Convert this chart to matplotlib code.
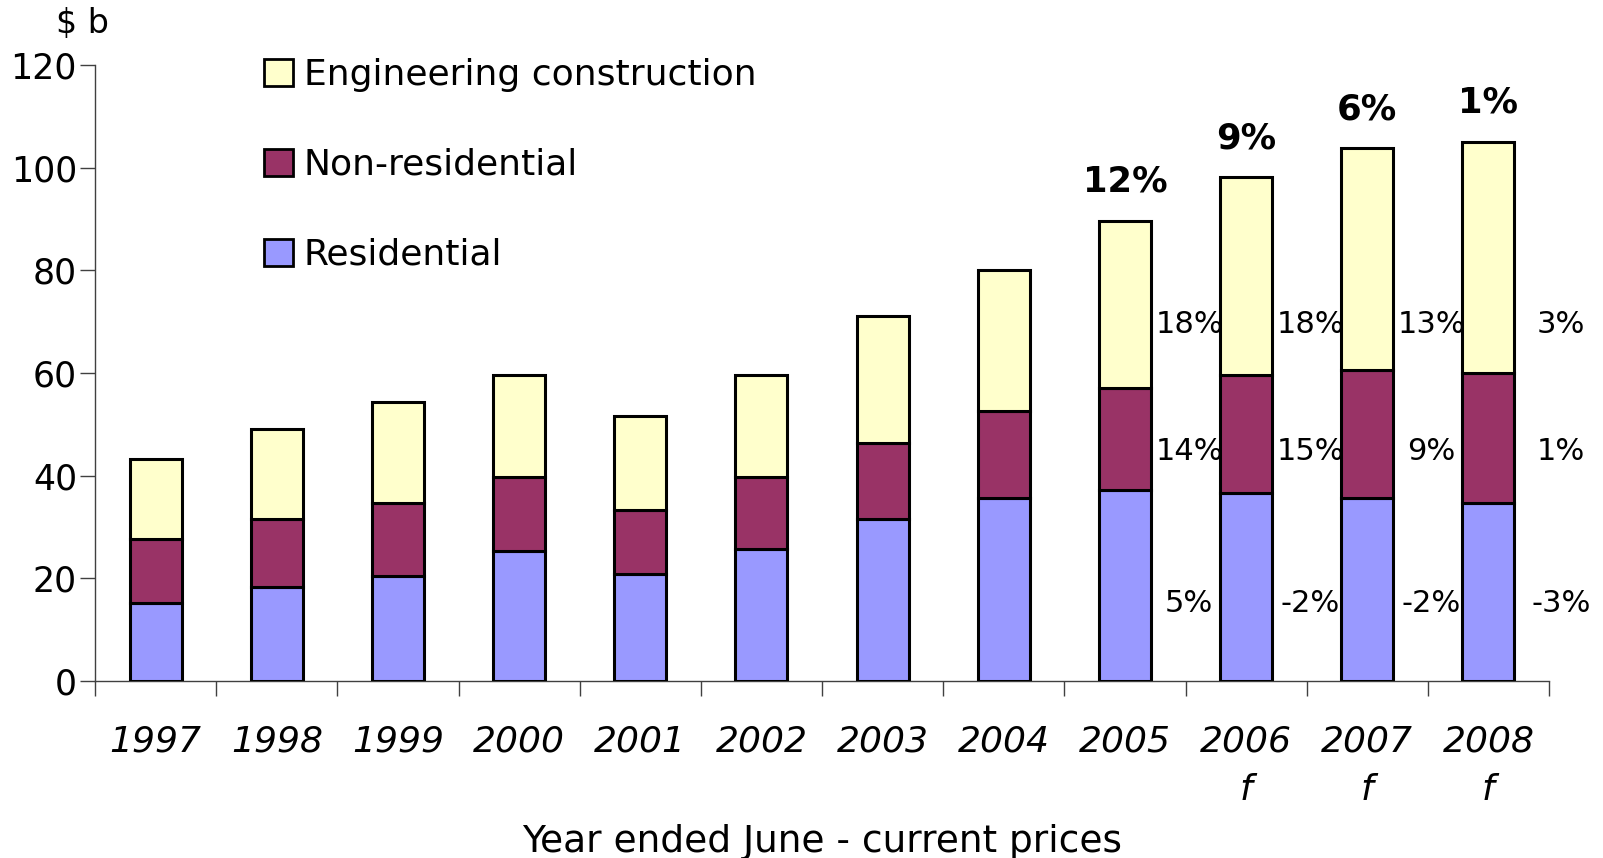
import matplotlib
matplotlib.use("Agg")
import matplotlib.pyplot as plt
from matplotlib.patches import Patch
import numpy as np

years = ["1997", "1998", "1999", "2000", "2001", "2002", "2003", "2004", "2005", "2006\nf", "2007\nf", "2008\nf"]
residential = [15.1, 18.3, 20.5, 25.3, 20.9, 25.7, 31.5, 35.7, 37.3, 36.7, 35.7, 34.7]
non_residential = [12.6, 13.2, 14.2, 14.4, 12.4, 14.0, 14.9, 16.9, 19.7, 22.9, 24.9, 25.3]
engineering = [15.6, 17.5, 19.7, 19.9, 18.3, 19.9, 24.8, 27.5, 32.7, 38.5, 43.2, 45.0]

label_years = ["2005", "2006", "2007", "2008"]
total_growth = ["12%", "9%", "6%", "1%"]
eng_growth = ["18%", "18%", "13%", "3%"]
nonres_growth = ["14%", "15%", "9%", "1%"]
res_growth = ["5%", "-2%", "-2%", "-3%"]

c_res = "#9999FF"
c_non = "#993366"
c_eng = "#FFFFCC"

fig = plt.figure(figsize=(16.03, 8.58), dpi=100)
ax = fig.add_axes([95/1603, 1-681/858, (1549-95)/1603, (681-65)/858])

x = np.arange(len(years))
w = 0.43
res = np.array(residential)
non = np.array(non_residential)
eng = np.array(engineering)
ax.bar(x, res, w, color=c_res, edgecolor="black", linewidth=2.2, zorder=3)
ax.bar(x, non, w, bottom=res, color=c_non, edgecolor="black", linewidth=2.2, zorder=3)
ax.bar(x, eng, w, bottom=res + non, color=c_eng, edgecolor="black", linewidth=2.2, zorder=3)

ax.set_xlim(-0.5, len(years) - 0.5)
ax.set_ylim(0, 120)
ax.set_yticks(range(0, 121, 20))
ax.tick_params(axis="y", labelsize=25, length=11, width=1, color="#404040", pad=2, direction="out")
ax.set_xticks(x)
ax.set_xticklabels(years, fontsize=26, style="italic", linespacing=1.55)
ax.tick_params(axis="x", length=0, pad=31)
ax.set_xticks(np.arange(-0.5, len(years), 1), minor=True)
ax.tick_params(axis="x", which="minor", length=11, width=1, color="#404040", direction="out")
for s in ["top", "right"]:
    ax.spines[s].set_visible(False)
for s in ["left", "bottom"]:
    ax.spines[s].set_color("#404040")
    ax.spines[s].set_linewidth(1)
ax.set_xlabel("Year ended June - current prices", fontsize=27, labelpad=12)

totals = res + non + eng
x_off = [0.53, 0.53, 0.53, 0.6]
for k, (yr, tg, eg, ng, rg) in enumerate(zip(label_years, total_growth, eng_growth, nonres_growth, res_growth)):
    i = [y.split("\n")[0] for y in years].index(yr)
    ax.text(i, totals[i] + 4.3, tg, ha="center", va="bottom", fontsize=25.5, fontweight="bold")
    ax.text(i + x_off[k], 69.4, eg, ha="center", va="center", fontsize=22)
    ax.text(i + x_off[k], 44.8, ng, ha="center", va="center", fontsize=22)
    ax.text(i + x_off[k], 15.1, rg, ha="center", va="center", fontsize=22)

fig.text(56/1603, 1-24/858, "$ b", fontsize=24, ha="left", va="center")

handles = [Patch(facecolor=c_eng, edgecolor="black", linewidth=2),
           Patch(facecolor=c_non, edgecolor="black", linewidth=2),
           Patch(facecolor=c_res, edgecolor="black", linewidth=2)]
labels = ["Engineering construction", "Non-residential", "Residential"]
fig.legend(handles, labels, loc="upper left", bbox_to_anchor=(264/1603, 1-58/858),
           frameon=False, fontsize=26, handlelength=0.8, handleheight=0.8,
           handletextpad=0.3, labelspacing=1.55, borderpad=0, borderaxespad=0)

fig.savefig("out.png", dpi=100)
